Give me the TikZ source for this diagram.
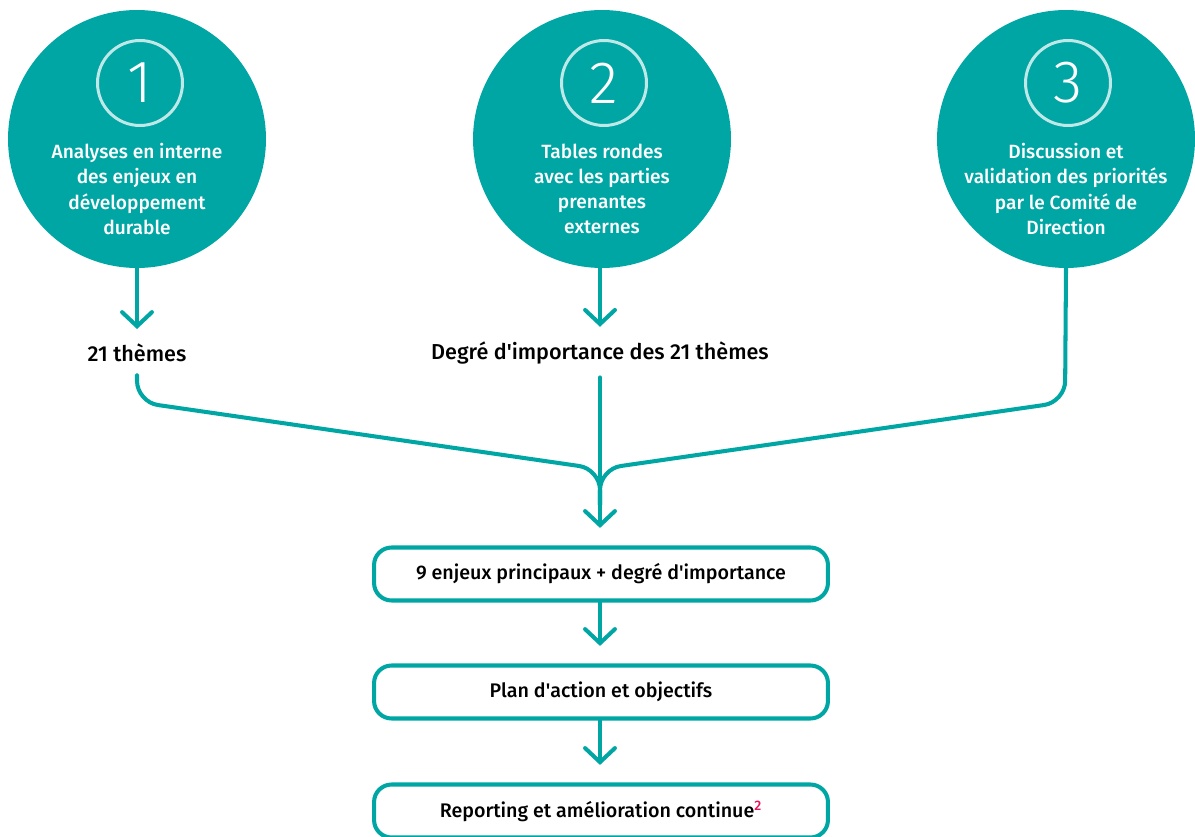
\documentclass[tikz,border=0pt]{standalone}
\usepackage{fontspec}
\setmainfont{Fira Sans Medium}
\newfontfamily\numfont{Fira Sans Light}
\usepackage{xcolor}
\usetikzlibrary{arrows.meta,positioning}
\definecolor{tealmain}{RGB}{0,166,164}
\definecolor{notered}{RGB}{232,16,90}

\begin{document}
\begin{tikzpicture}[
        x=0.02cm, y=-0.02cm,
        font=\fontsize{10.9}{14.3}\selectfont,
        >={Straight Barb[length=8pt,width=17pt,line cap=round]},
        stage/.style={circle, fill=tealmain, minimum size=5.16cm, inner sep=0pt},
        numring/.style={circle, draw=white!75!tealmain, line width=1.7pt, minimum size=1.7cm, inner sep=0pt, text=white, font=\numfont\fontsize{34}{34}\selectfont},
        stagetext/.style={text=white, align=center},
        result/.style={font=\fontsize{12.3}{14}\selectfont},
        outcome/.style={draw=tealmain, line width=2.3pt, rounded corners=10pt, fill=white, minimum width=9.08cm, minimum height=1.06cm, font=\fontsize{11.2}{13}\selectfont},
        flow/.style={draw=tealmain, line width=2.3pt, line cap=round}
    ]

    \useasboundingbox (0,0) rectangle (1195,837);

    % ==========================================
    % Three stages
    % ==========================================
    \node[stage] (c1) at (137,139) {};
    \node[stage] (c2) at (602,139) {};
    \node[stage] (c3) at (1066,139) {};

    \node[numring] (n1) at (140,83) {1};
    \node[numring] (n2) at (604,83) {2};
    \node[numring] (n3) at (1068,83) {3};

    \node[stagetext] (t1) at (137,189) {Analyses en interne\\des enjeux en\\développement\\durable};
    \node[stagetext] (t2) at (602,189) {Tables rondes\\avec les parties\\prenantes\\externes};
    \node[stagetext] (t3) at (1066,189) {Discussion et\\validation des priorités\\par le Comité de\\Direction};

    % ==========================================
    % Intermediate results
    % ==========================================
    \node[result] (lab1) at (137,353) {21 thèmes};
    \node[result] (lab2) at (600,353) {Degré d\textquotesingle importance des 21 thèmes};

    \draw[flow, ->, shorten >=5pt] (c1.south) -- (lab1.north);
    \draw[flow, ->, shorten >=5pt] (c2.south -| lab2.north) -- (lab2.north);

    % ==========================================
    % Merge of the three branches
    % ==========================================
    \coordinate (bendL) at (137,402);
    \coordinate (bendR) at (1065,402);
    \coordinate (merge) at (600,469);
    \coordinate (mergeend) at (600,505);

    \draw[flow, rounded corners=12pt, shorten <=4pt] (lab1.south) -- (bendL) -- (merge) -- (mergeend);
    \draw[flow, rounded corners=12pt] (c3.south) -- (bendR) -- (merge) -- (mergeend);

    % ==========================================
    % Outcomes
    % ==========================================
    \node[outcome] (box1) at (601,574) {9 enjeux principaux + degré d\textquotesingle importance};
    \node[outcome] (box2) at (601,692) {Plan d\textquotesingle action et objectifs};
    \node[outcome] (box3) at (601,811) {Reporting et amélioration continue\textsuperscript{\color{notered}2}};

    \draw[flow, ->, shorten <=4pt, shorten >=10pt] (lab2.south) -- (lab2.south |- box1.north);
    \draw[flow, ->, shorten >=10pt] (box1.south -| lab2.south) -- (lab2.south |- box2.north);
    \draw[flow, ->, shorten >=10pt] (box2.south -| lab2.south) -- (lab2.south |- box3.north);

\end{tikzpicture}
\end{document}
